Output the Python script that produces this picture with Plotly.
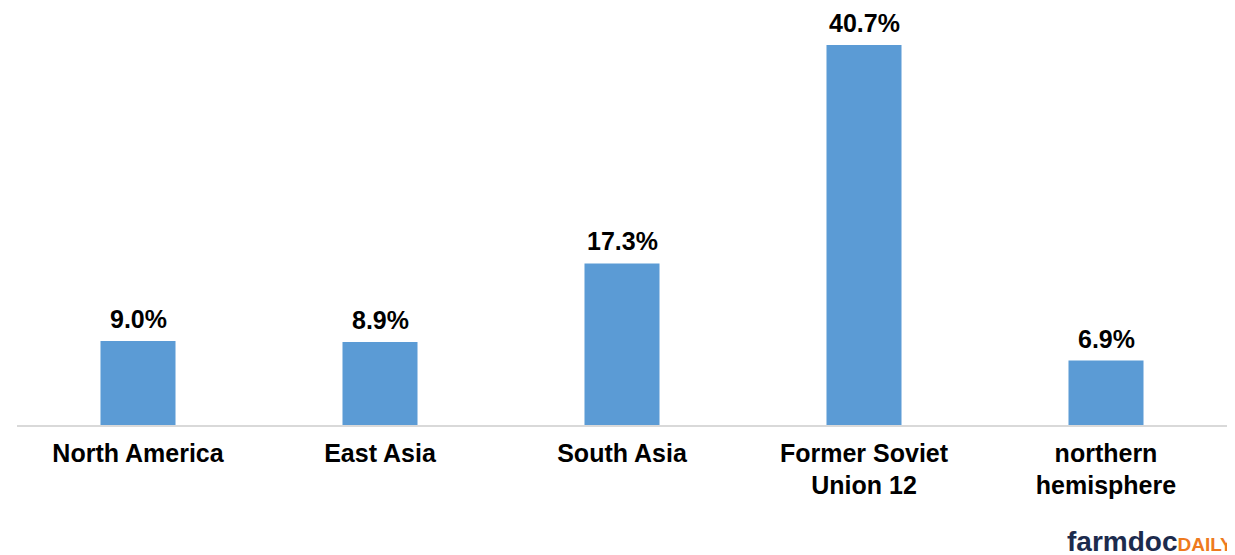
import plotly.graph_objects as go

categories = ["North America", "East Asia", "South Asia", "Former Soviet<br>Union 12", "northern<br>hemisphere"]
values = [9.0, 8.9, 17.3, 40.7, 6.9]
value_labels = ["9.0%", "8.9%", "17.3%", "40.7%", "6.9%"]

FONT = "Liberation Sans, Arial"

fig = go.Figure()
fig.add_trace(go.Bar(
    x=categories, y=values,
    marker=dict(color="#5B9BD5", line=dict(width=0)),
    width=0.31,
))

for c, v, t in zip(categories, values, value_labels):
    fig.add_annotation(x=c, y=v, text="<b>%s</b>" % t, showarrow=False,
                       yanchor="bottom", yshift=6,
                       font=dict(family=FONT, size=25, color="#000000"))

fig.add_annotation(
    xref="paper", yref="paper", x=0.866, y=0, xanchor="left", yanchor="middle",
    text="<b><span style='color:#1c2b4d'>farmdoc</span><span style='color:#ee7a1e;font-size:19px'>DAILY</span></b>",
    showarrow=False, yshift=-116,
    font=dict(family=FONT, size=28, color="#1c2b4d"))

fig.update_layout(
    width=1227, height=547,
    margin=dict(l=9, r=8, t=5, b=130),
    plot_bgcolor="white", paper_bgcolor="white",
    showlegend=False,
    xaxis=dict(showline=True, linecolor="#d9d9d9", linewidth=1.5,
               tickfont=dict(family=FONT, size=25, color="#000000"),
               ticks="", ticklabelstandoff=5,
               tickprefix="<b>", ticksuffix="</b>"),
    yaxis=dict(range=[0, 44.13], visible=False, showgrid=False),
)

fig.write_html("out.html")
